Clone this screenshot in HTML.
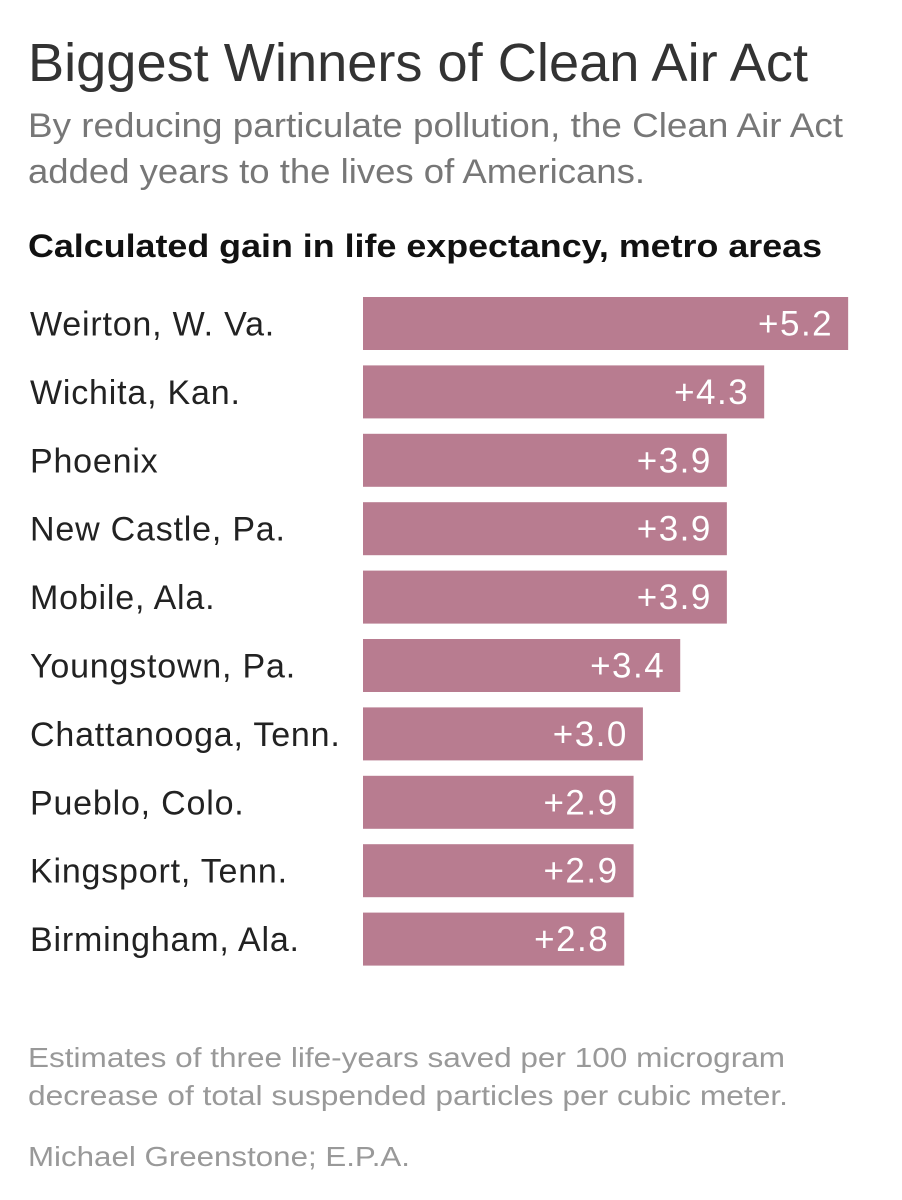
<!DOCTYPE html>
<html><head><meta charset="utf-8"><style>
body{margin:0;background:#fff}
svg{display:block;font-family:"Liberation Sans",Arial,sans-serif}
</style></head><body>
<svg id="chart" width="902" height="1200" viewBox="0 0 902 1200" xmlns="http://www.w3.org/2000/svg">
<rect width="902" height="1200" fill="#fff"/>
<text x="28" y="81" font-size="54" fill="#333" textLength="780" lengthAdjust="spacingAndGlyphs">Biggest Winners of Clean Air Act</text>
<text x="28" y="137" font-size="34" fill="#777" textLength="815" lengthAdjust="spacingAndGlyphs">By reducing particulate pollution, the Clean Air Act</text>
<text x="28" y="183" font-size="34" fill="#777" textLength="617" lengthAdjust="spacingAndGlyphs">added years to the lives of Americans.</text>
<text x="28" y="257" font-size="32" font-weight="bold" fill="#111" textLength="794" lengthAdjust="spacingAndGlyphs">Calculated gain in life expectancy, metro areas</text>
<g id="bars"></g>
<text x="28" y="1067" font-size="28" fill="#999" textLength="757" lengthAdjust="spacingAndGlyphs">Estimates of three life-years saved per 100 microgram</text>
<text x="28" y="1105" font-size="28" fill="#999" textLength="760" lengthAdjust="spacingAndGlyphs">decrease of total suspended particles per cubic meter.</text>
<text x="28" y="1166" font-size="28" fill="#999" textLength="382" lengthAdjust="spacingAndGlyphs">Michael Greenstone; E.P.A.</text>
</svg>
<script>
const categories = ["Weirton, W. Va.","Wichita, Kan.","Phoenix","New Castle, Pa.","Mobile, Ala.","Youngstown, Pa.","Chattanooga, Tenn.","Pueblo, Colo.","Kingsport, Tenn.","Birmingham, Ala."];
const values = [5.2,4.3,3.9,3.9,3.9,3.4,3.0,2.9,2.9,2.8];
const valueLabels = ["+5.2","+4.3","+3.9","+3.9","+3.9","+3.4","+3.0","+2.9","+2.9","+2.8"];
const NS = "http://www.w3.org/2000/svg";
const x0 = 363, pxPerUnit = 93.3;
const xScale = v => x0 + v * pxPerUnit;
const yTop = i => 297 + i * 68.4;
const barH = 53;
const g = document.getElementById("bars");
categories.forEach((c, i) => {
  const y = yTop(i);
  const lab = document.createElementNS(NS, "text");
  
  
  lab.setAttribute("x", 30); lab.setAttribute("y", y + barH/2 + 12);
  lab.setAttribute("font-size", "34"); lab.setAttribute("fill", "#222");
  lab.setAttribute("letter-spacing", "0.8");
  lab.textContent = c; g.appendChild(lab);
  const r = document.createElementNS(NS, "rect");
  
  
  r.setAttribute("x", x0); r.setAttribute("y", y);
  r.setAttribute("width", xScale(values[i]) - x0); r.setAttribute("height", barH);
  r.setAttribute("fill", "#b87c90"); g.appendChild(r);
  const t = document.createElementNS(NS, "text");
  
  
  t.setAttribute("x", xScale(values[i]) - 15); t.setAttribute("y", y + barH/2 + 12);
  t.setAttribute("font-size", "35"); t.setAttribute("fill", "#fff");
  t.setAttribute("letter-spacing", "1.5");
  t.setAttribute("text-anchor", "end");
  t.textContent = valueLabels[i]; g.appendChild(t);
});
</script>
</body></html>
